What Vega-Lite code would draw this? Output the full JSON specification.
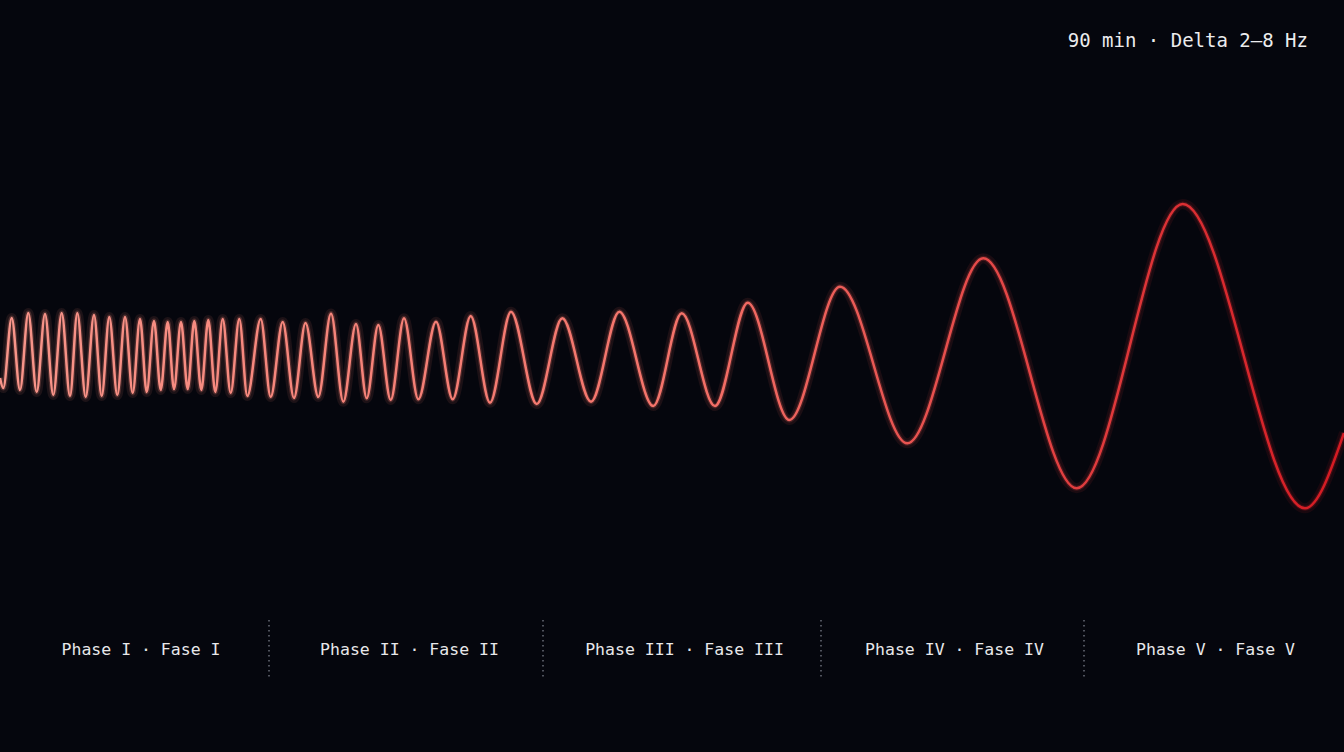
{
  "$schema": "https://vega.github.io/schema/vega-lite/v6.json",
  "width": 1344,
  "height": 752,
  "padding": 0,
  "autosize": {"type": "none"},
  "background": "#05060d",
  "config": {"view": {"stroke": null}},
  "datasets": {
    "wave": [
      {"t": 0, "a": -22}, {"t": 3.3, "a": -32}, {"t": 11.7, "a": 38}, {"t": 20, "a": -34},
      {"t": 28.3, "a": 43}, {"t": 36.7, "a": -36}, {"t": 45, "a": 42}, {"t": 53.3, "a": -39},
      {"t": 61.7, "a": 43}, {"t": 70, "a": -40}, {"t": 77.3, "a": 43}, {"t": 85.7, "a": -41},
      {"t": 94, "a": 41}, {"t": 101.7, "a": -40}, {"t": 109.3, "a": 39}, {"t": 117.3, "a": -39},
      {"t": 125, "a": 39}, {"t": 132.7, "a": -37}, {"t": 140, "a": 37}, {"t": 146.7, "a": -36},
      {"t": 154, "a": 35}, {"t": 160.7, "a": -34}, {"t": 167.7, "a": 34}, {"t": 174, "a": -33},
      {"t": 181, "a": 34}, {"t": 187.7, "a": -33}, {"t": 194.3, "a": 35}, {"t": 201.3, "a": -34},
      {"t": 208.3, "a": 36}, {"t": 215.3, "a": -36}, {"t": 222.7, "a": 37}, {"t": 230.7, "a": -37},
      {"t": 239.3, "a": 37}, {"t": 247.3, "a": -40}, {"t": 260.7, "a": 37}, {"t": 270.7, "a": -41},
      {"t": 282.7, "a": 34}, {"t": 294, "a": -42}, {"t": 305.5, "a": 33}, {"t": 318.3, "a": -41},
      {"t": 331, "a": 42.5}, {"t": 343.3, "a": -45.7}, {"t": 356, "a": 32}, {"t": 366.7, "a": -42.3},
      {"t": 378.3, "a": 31}, {"t": 390.7, "a": -44}, {"t": 404, "a": 37.7}, {"t": 418.3, "a": -43.3},
      {"t": 436, "a": 34.3}, {"t": 452.7, "a": -43.3}, {"t": 470.7, "a": 40}, {"t": 490, "a": -46.7},
      {"t": 511, "a": 44.3}, {"t": 536.7, "a": -48}, {"t": 562.3, "a": 37.7}, {"t": 591, "a": -45.7},
      {"t": 619.3, "a": 44.3}, {"t": 653.3, "a": -50}, {"t": 681.7, "a": 42.7}, {"t": 715, "a": -50},
      {"t": 747.7, "a": 53.3}, {"t": 789.3, "a": -64}, {"t": 840, "a": 69.3}, {"t": 907.3, "a": -87.3},
      {"t": 983.3, "a": 97.7}, {"t": 1076.7, "a": -132.3}, {"t": 1182.7, "a": 152}, {"t": 1305, "a": -152.3},
      {"t": 1344, "a": -77}
    ],
    "phases": [
      {"label": "Phase I · Fase I", "t": 141, "a": -294},
      {"label": "Phase II · Fase II", "t": 409.5, "a": -294},
      {"label": "Phase III · Fase III", "t": 684.5, "a": -294},
      {"label": "Phase IV · Fase IV", "t": 954.5, "a": -294},
      {"label": "Phase V · Fase V", "t": 1215.5, "a": -294}
    ],
    "dividers": [
      {"t": 269, "top": -264, "bottom": -322},
      {"t": 543, "top": -264, "bottom": -322},
      {"t": 821, "top": -264, "bottom": -322},
      {"t": 1084, "top": -264, "bottom": -322}
    ],
    "header": [
      {"label": "90 min · Delta 2–8 Hz", "t": 1308, "a": 315}
    ]
  },
  "layer": [
    {
      "data": {"name": "wave"},
      "mark": {
        "type": "line", "interpolate": "monotone", "strokeWidth": 10, "opacity": 0.1,
        "color": {"gradient": "linear", "x1": 0, "y1": 0, "x2": 1, "y2": 0,
          "stops": [{"offset": 0, "color": "#f48a7a"}, {"offset": 0.5, "color": "#f06a5e"}, {"offset": 1, "color": "#d0161e"}]}
      },
      "encoding": {
        "x": {"field": "t", "type": "quantitative", "scale": {"domain": [0, 1344], "nice": false, "zero": false}, "axis": null},
        "y": {"field": "a", "type": "quantitative", "scale": {"domain": [-396, 356], "nice": false, "zero": false}, "axis": null}
      }
    },
    {
      "data": {"name": "wave"},
      "mark": {
        "type": "line", "interpolate": "monotone", "strokeWidth": 5, "opacity": 0.22,
        "color": {"gradient": "linear", "x1": 0, "y1": 0, "x2": 1, "y2": 0,
          "stops": [{"offset": 0, "color": "#f48a7a"}, {"offset": 0.5, "color": "#f06a5e"}, {"offset": 1, "color": "#d0161e"}]}
      },
      "encoding": {
        "x": {"field": "t", "type": "quantitative", "scale": {"domain": [0, 1344], "nice": false, "zero": false}, "axis": null},
        "y": {"field": "a", "type": "quantitative", "scale": {"domain": [-396, 356], "nice": false, "zero": false}, "axis": null}
      }
    },
    {
      "data": {"name": "wave"},
      "mark": {
        "type": "line", "interpolate": "monotone", "strokeWidth": 2.5,
        "color": {"gradient": "linear", "x1": 0, "y1": 0, "x2": 1, "y2": 0,
          "stops": [{"offset": 0, "color": "#f8958a"}, {"offset": 0.5, "color": "#f4736a"}, {"offset": 1, "color": "#d41a22"}]}
      },
      "encoding": {
        "x": {"field": "t", "type": "quantitative", "scale": {"domain": [0, 1344], "nice": false, "zero": false}, "axis": null},
        "y": {"field": "a", "type": "quantitative", "scale": {"domain": [-396, 356], "nice": false, "zero": false}, "axis": null}
      }
    },
    {
      "data": {"name": "dividers"},
      "mark": {"type": "rule", "color": "#6a6e78", "strokeWidth": 1.5, "strokeDash": [1.5, 3.5]},
      "encoding": {
        "x": {"field": "t", "type": "quantitative"},
        "y": {"field": "top", "type": "quantitative"},
        "y2": {"field": "bottom"}
      }
    },
    {
      "data": {"name": "phases"},
      "mark": {"type": "text", "font": "DejaVu Sans Mono", "fontSize": 16.5, "color": "#e8e8ea", "align": "center", "baseline": "middle"},
      "encoding": {
        "x": {"field": "t", "type": "quantitative"},
        "y": {"field": "a", "type": "quantitative"},
        "text": {"field": "label"}
      }
    },
    {
      "data": {"name": "header"},
      "mark": {"type": "text", "font": "DejaVu Sans Mono", "fontSize": 19, "color": "#ececee", "align": "right", "baseline": "middle"},
      "encoding": {
        "x": {"field": "t", "type": "quantitative"},
        "y": {"field": "a", "type": "quantitative"},
        "text": {"field": "label"}
      }
    }
  ]
}
